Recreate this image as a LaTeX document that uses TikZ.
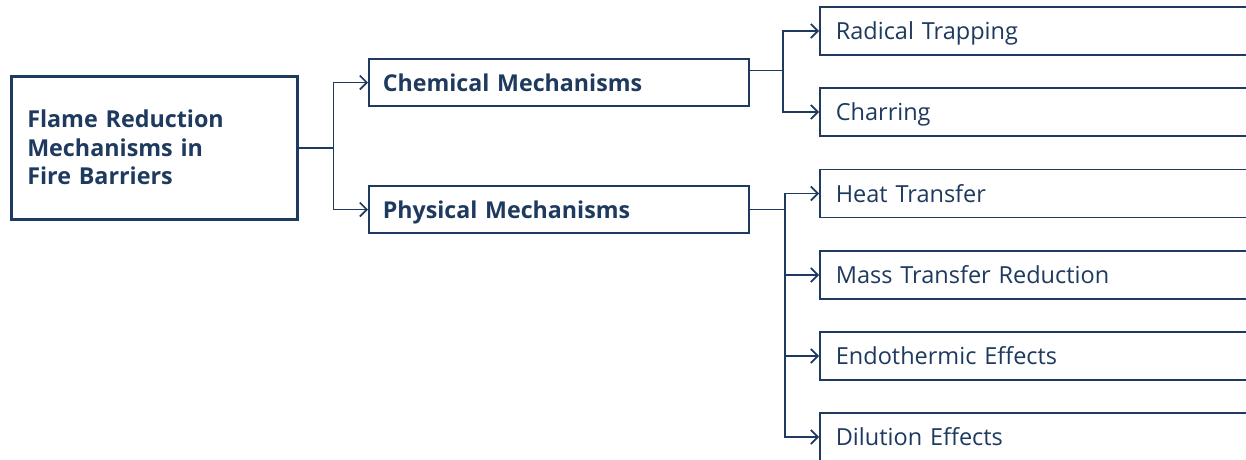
\documentclass[tikz,border=0pt]{standalone}
\usepackage{fontspec}
\setmainfont{Open Sans}
\usetikzlibrary{arrows.meta}
\definecolor{navy}{RGB}{30,58,95}
\tikzset{
  rootbox/.style={draw=navy, line width=2.5pt, text=navy, font=\fontsize{23.3}{28.5}\selectfont\bfseries,
    text width=254pt, minimum height=143pt, inner xsep=16pt, align=left, anchor=north west},
  midbox/.style={draw=navy, line width=1.7pt, text=navy, font=\fontsize{23.2}{26}\selectfont\bfseries,
    text width=352pt, minimum height=47pt, inner xsep=14pt, align=left, anchor=west,
    text height=19pt, text depth=2pt},
  leafbox/.style={draw=navy, line width=1.7pt, text=navy, font=\fontsize{23.5}{26}\selectfont,
    text width=420pt, minimum height=48pt, inner xsep=16pt, align=left, anchor=west,
    text height=19pt, text depth=2pt},
  conn/.style={draw=navy, line width=1.7pt},
  arr/.style={conn, -{Straight Barb[length=7pt,width=14pt,line width=1.7pt]}}
}
\begin{document}
\begin{tikzpicture}[x=1pt,y=-1pt]
\fill[white] (0,0) rectangle (1246,459);
\useasboundingbox (0,0) rectangle (1246,459);
\clip (0,0) rectangle (1246,459);
\node[rootbox] (root) at (10,75) {Flame Reduction\\Mechanisms in\\Fire Barriers};
\node[midbox] (chem) at (368,82.5) {Chemical Mechanisms};
\node[midbox] (phys) at (368,209.5) {Physical Mechanisms};
\node[leafbox] (rt) at (819,31) {Radical Trapping};
\node[leafbox] (ch) at (819,112) {Charring};
\node[leafbox] (ht) at (819,193.5) {Heat Transfer};
\node[leafbox] (mt) at (819,275) {Mass Transfer Reduction};
\node[leafbox] (ee) at (819,356) {Endothermic Effects};
\node[leafbox] (de) at (819,437) {Dilution Effects};
\coordinate (j0) at ([xshift=35pt]root.east);
\coordinate (j1) at (783,70.5);
\coordinate (j2) at ([xshift=35pt]phys.east);
\draw[conn] (root.east) -- (j0);
\draw[arr] (j0) |- (chem.west);
\draw[arr] (j0) |- (phys.west);
\draw[conn] (chem.east |- j1) -- (j1);
\draw[arr] (j1) |- (rt.west);
\draw[arr] (j1) |- (ch.west);
\draw[conn] (phys.east) -- (j2);
\draw[arr] (j2) |- (ht.west);
\draw[arr] (j2) |- (mt.west);
\draw[arr] (j2) |- (ee.west);
\draw[arr] (j2) |- (de.west);
\end{tikzpicture}
\end{document}
